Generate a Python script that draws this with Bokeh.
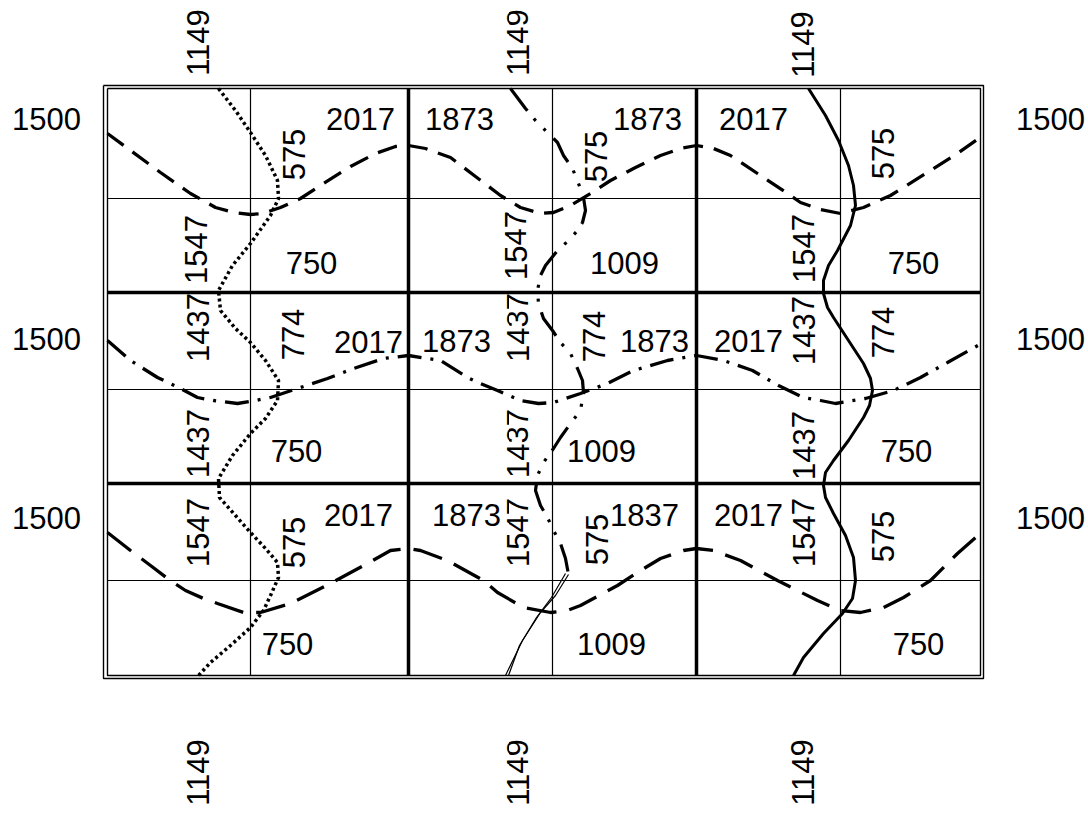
import math
from bokeh.plotting import figure
from bokeh.models import Range1d, ColumnDataSource
from bokeh.core.properties import value
from bokeh.embed import file_html
from bokeh.resources import INLINE

# ---------------- data (diagram coordinates) ----------------
x_edges_outer = [103, 983]
y_edges_outer = [85, 678]
x_edges_inner = [107, 980]
y_edges_inner = [88, 675]
x_major = [408, 696]
y_major = [292, 483]
x_minor = [250, 552, 840]
y_minor = [198, 389, 580]

# row 1 dashed wave
row1_x = [107, 130, 160, 190, 215, 233, 250, 262, 280, 300, 323, 350, 375, 395, 408,
          425, 450, 475, 500, 520, 540, 553, 570, 590, 610, 635, 660, 680, 696,
          713, 730, 757, 787, 800, 820, 840, 863, 890, 930, 957, 981]
row1_y = [133, 150, 172, 193, 207, 212, 214, 213, 207, 198, 183, 166, 153, 146, 145,
          148, 157, 176, 195, 207, 213, 212, 205, 193, 180, 167, 155, 148, 145,
          148, 155, 173, 193, 202, 209, 213, 207, 195, 170, 153, 136]
# row 2 dash-dot wave
row2_x = [107, 130, 157, 180, 197, 213, 237, 255, 270, 297, 327, 353, 383, 408,
          440, 467, 480, 497, 520, 538, 553, 580, 607, 633, 667, 696,
          723, 752, 778, 803, 820, 835, 865, 893, 920, 947, 981]
row2_y = [340, 360, 377, 388, 397, 400, 403, 400, 397, 388, 378, 368, 358, 355,
          360, 377, 383, 390, 400, 403, 402, 393, 383, 370, 360, 355,
          360, 370, 385, 397, 400, 403, 398, 390, 377, 362, 343]
# row 3 long dash wave
row3_x = [107, 130, 150, 167, 185, 203, 217, 243, 260, 290, 330, 367, 390, 408,
          420, 447, 483, 497, 523, 550, 567, 580, 617, 640, 660, 683, 696,
          713, 740, 777, 817, 840, 860, 883, 903, 930, 957, 981]
row3_y = [532, 550, 565, 578, 590, 598, 603, 612, 612, 603, 583, 563, 550, 548,
          550, 560, 580, 592, 607, 612, 610, 605, 585, 570, 558, 550, 548,
          550, 560, 580, 600, 610, 612, 607, 597, 580, 553, 532]

# left dotted meander
colA_x = [218, 235, 250, 265, 277, 278, 270, 250, 232, 218, 220, 235, 250, 265, 278,
          277, 265, 250, 232, 218, 219, 235, 250, 265, 277, 278, 270, 263, 250, 230, 210, 198]
colA_y = [88, 110, 132, 155, 180, 198, 215, 243, 265, 290, 310, 328, 342, 360, 380,
          400, 418, 433, 455, 478, 497, 515, 532, 548, 562, 577, 595, 610, 627, 645, 662, 675]
# middle dash-dot-dot meander
colB_x = [510, 525, 535, 548, 557, 563, 572, 578, 583, 585, 582, 577, 568, 557, 545, 540,
          537, 538, 543, 552, 560, 570, 577, 582, 583, 580, 570, 560, 553, 543, 537,
          535, 540, 547, 553, 560, 565, 568]
colB_y = [88, 108, 120, 133, 142, 155, 168, 183, 197, 210, 222, 230, 240, 250, 265, 275,
          290, 303, 318, 330, 342, 353, 368, 380, 392, 410, 423, 437, 448, 462, 475,
          490, 505, 517, 530, 543, 558, 574]
colB_tail1_x = [568, 555, 540, 522, 505]
colB_tail1_y = [574, 595, 612, 640, 675]
colB_tail2_x = [565, 551, 536, 519, 508]
colB_tail2_y = [573, 597, 617, 645, 675]
# right solid meander
colC_x = [808, 825, 838, 848, 853, 855, 850, 837, 828, 823, 823, 827, 833, 848, 863, 870,
          872, 869, 863, 848, 833, 825, 823, 825, 833, 845, 853, 855, 852, 842, 823, 803, 793]
colC_y = [88, 115, 140, 165, 185, 205, 225, 250, 265, 280, 293, 307, 317, 340, 363, 378,
          390, 405, 417, 440, 460, 472, 485, 497, 513, 535, 557, 580, 598, 613, 633, 657, 675]

# labels
lab_text = ["1149", "1149", "1149", "1149", "1149", "1149",
            "1500", "1500", "1500", "1500", "1500", "1500",
            "2017", "1873", "1873", "2017",
            "575", "575", "575",
            "1547", "750", "1547", "1009", "1547", "750",
            "1437", "774", "2017", "1873", "1437", "774", "1873", "2017", "1437", "774",
            "1437", "750", "1437", "1009", "1437", "750",
            "1547", "575", "2017", "1873", "1547", "575", "1837", "2017", "1547", "575",
            "750", "1009", "750"]
lab_x = [197, 517, 802, 197, 517, 802,
         46, 46, 46, 1050, 1050, 1050,
         360, 459, 647, 753,
         293, 595, 882,
         195, 311, 515, 624, 803, 913,
         197, 292, 368, 456, 517, 593, 654, 748, 803, 882,
         197, 296, 517, 601, 803, 906,
         197, 293, 358, 466, 517, 596, 644, 748, 803, 882,
         287, 611, 918]
lab_y = [42, 42, 44, 772, 772, 772,
         118, 338, 517, 118, 338, 517,
         118, 118, 118, 118,
         154, 156, 153,
         249, 262, 245, 262, 248, 262,
         327, 334, 341, 340, 327, 336, 340, 340, 330, 332,
         443, 450, 443, 450, 445, 450,
         532, 542, 514, 514, 532, 539, 514, 514, 532, 536,
         643, 643, 643]
lab_rot = [1, 1, 1, 1, 1, 1,
           0, 0, 0, 0, 0, 0,
           0, 0, 0, 0,
           1, 1, 1,
           1, 0, 1, 0, 1, 0,
           1, 1, 0, 0, 1, 1, 0, 0, 1, 1,
           1, 0, 1, 0, 1, 0,
           1, 1, 0, 0, 1, 1, 0, 0, 1, 1,
           0, 0, 0]

# ---------------- figure ----------------
W, H = 1088, 817
p = figure(width=W, height=H, output_backend="svg", toolbar_location=None,
           x_range=Range1d(0, W), y_range=Range1d(H, 0),
           min_border=0, outline_line_color=None)
p.axis.visible = False
p.xgrid.visible = False
p.ygrid.visible = False
p.background_fill_color = "white"
p.border_fill_color = "white"

# grid lines
for xs, w in ((x_minor, 1.2), (x_major, 3.5)):
    p.multi_line(xs=[[x, x] for x in xs], ys=[[y_edges_inner[0], y_edges_inner[1]]] * len(xs),
                 line_color="black", line_width=w)
for ys, w in ((y_minor, 1.2), (y_major, 3.5)):
    p.multi_line(xs=[[x_edges_inner[0], x_edges_inner[1]]] * len(ys), ys=[[y, y] for y in ys],
                 line_color="black", line_width=w)
# double frame
for xe, ye in ((x_edges_outer, y_edges_outer), (x_edges_inner, y_edges_inner)):
    p.line(x=[xe[0], xe[1], xe[1], xe[0], xe[0]], y=[ye[0], ye[0], ye[1], ye[1], ye[0]],
           line_color="black", line_width=1.4)

# curves
p.line(row1_x, row1_y, line_color="black", line_width=3.3, line_dash="20 11")
p.line(row2_x, row2_y, line_color="black", line_width=3.3, line_dash="24 9 3 9")
p.line(row3_x, row3_y, line_color="black", line_width=3.3, line_dash="30 13")
p.line(colA_x, colA_y, line_color="black", line_width=3.5, line_dash="3 3")
p.line(colB_x, colB_y, line_color="black", line_width=3.2, line_dash="28 10 3 11 3 11")
p.line(colB_tail1_x, colB_tail1_y, line_color="black", line_width=1.2)
p.line(colB_tail2_x, colB_tail2_y, line_color="black", line_width=1.2)
p.line(colC_x, colC_y, line_color="black", line_width=3)

src = ColumnDataSource(dict(x=lab_x, y=lab_y, text=lab_text,
                            angle=[r * math.pi / 2 for r in lab_rot]))
p.text(x="x", y="y", text="text", angle="angle", source=src,
       text_font=value("Liberation Sans"), text_font_size="31px",
       text_color="black", text_align="center", text_baseline="middle")

open("out.html", "w").write(file_html(p, INLINE))
